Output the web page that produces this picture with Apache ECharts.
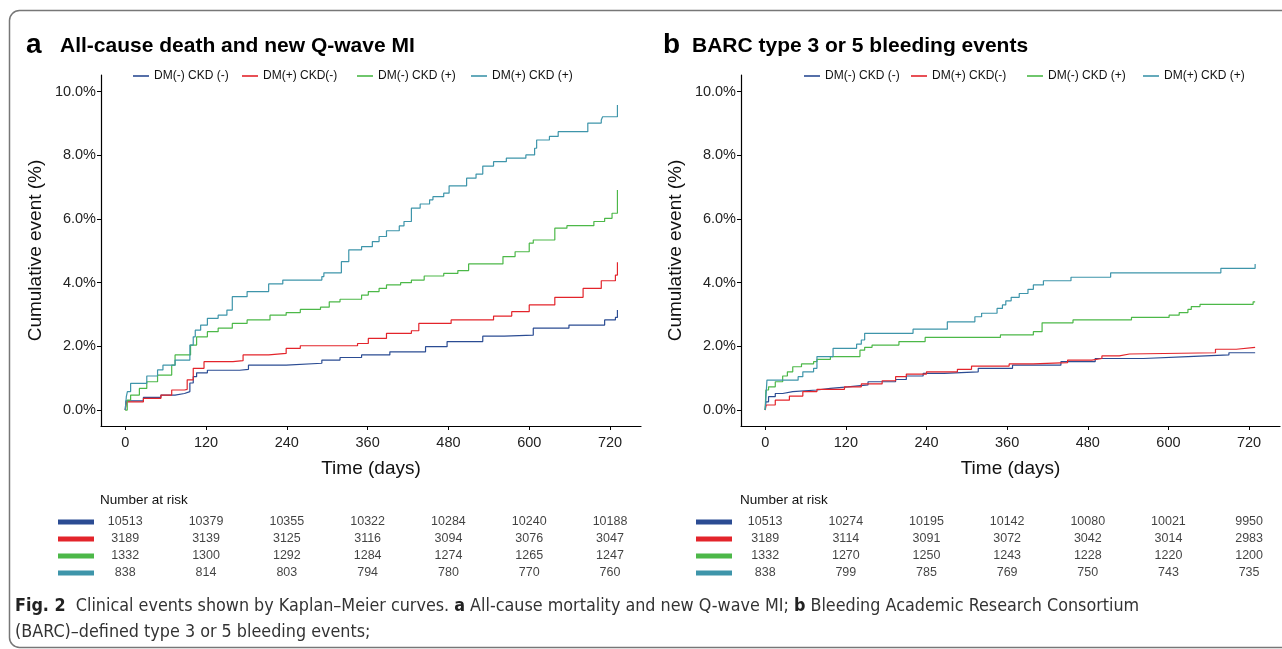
<!DOCTYPE html>
<html>
<head>
<meta charset="utf-8">
<script src="https://cdn.jsdelivr.net/npm/echarts@6/dist/echarts.min.js"></script>
<style>
html,body{margin:0;padding:0;background:#fff;}
#c{width:1282px;height:649px;}
</style>
</head>
<body>
<div id="c"></div>
<script>
// ---------- data ----------
const groups = ['DM(-) CKD (-)', 'DM(+) CKD(-)', 'DM(-) CKD (+)', 'DM(+) CKD (+)'];
const colors = ['#2b4c93', '#e3242b', '#4cb848', '#3e95aa'];
const timeTicks = [0, 120, 240, 360, 480, 600, 720];
const pctTicks = [0, 2, 4, 6, 8, 10];

// Panel a: All-cause death and new Q-wave MI  [day, cumulative %]
const aDm0Ckd0 = [[0,0],[1,0.29],[27,0.40],[53,0.47],[74,0.52],[88,0.58],[96,0.85],[101,1.05],[106,1.17],[122,1.25],[170,1.28],[183,1.41],[239,1.47],[292,1.57],[319,1.65],[351,1.73],[393,1.83],[446,1.99],[478,2.15],[531,2.32],[563,2.35],[606,2.57],[659,2.67],[712,2.83],[728,2.91],[731,3.14]];
const aDm1Ckd0 = [[0,0],[2,0.26],[27,0.37],[53,0.47],[69,0.63],[88,0.65],[92,0.95],[101,1.31],[117,1.52],[160,1.55],[175,1.73],[213,1.78],[239,1.94],[260,2.02],[345,2.09],[361,2.25],[388,2.41],[425,2.49],[436,2.72],[484,2.83],[547,2.95],[574,3.09],[600,3.30],[638,3.54],[680,3.82],[707,4.06],[728,4.24],[731,4.64]];
const aDm0Ckd1 = [[0,0],[3,0.31],[8,0.47],[21,0.68],[32,0.89],[48,1.10],[69,1.41],[74,1.73],[97,2.04],[106,2.30],[122,2.46],[138,2.57],[159,2.72],[181,2.83],[215,2.98],[239,3.06],[260,3.16],[290,3.23],[303,3.40],[319,3.48],[351,3.61],[361,3.72],[377,3.82],[388,3.93],[409,4.00],[425,4.08],[444,4.21],[473,4.29],[494,4.38],[510,4.59],[561,4.82],[579,4.97],[600,5.24],[606,5.34],[638,5.71],[656,5.79],[696,5.92],[712,6.02],[723,6.18],[731,6.91]];
const aDm1Ckd1 = [[0,0],[1.6,0.42],[3.2,0.58],[8,0.84],[32,1.07],[48,1.26],[56,1.41],[74,1.57],[96,2.04],[101,2.30],[104,2.51],[112,2.67],[122,2.88],[138,2.98],[151,3.14],[159,3.56],[181,3.72],[213,3.96],[234,4.08],[292,4.19],[295,4.31],[321,4.66],[332,5.03],[351,5.13],[367,5.29],[377,5.45],[388,5.63],[407,5.78],[414,5.92],[425,6.34],[438,6.47],[452,6.60],[457,6.70],[473,6.81],[481,7.04],[507,7.28],[521,7.41],[531,7.66],[547,7.80],[566,7.91],[595,8.01],[608,8.22],[611,8.48],[630,8.59],[643,8.74],[687,9.01],[707,9.11],[709,9.21],[731,9.58]];

// Panel b: BARC type 3 or 5 bleeding events  [day, cumulative %]
const bDm0Ckd0 = [[0,0],[1,0.26],[5,0.42],[15,0.52],[26,0.58],[41,0.63],[77,0.68],[97,0.73],[123,0.79],[153,0.89],[194,0.96],[210,1.07],[235,1.15],[266,1.20],[317,1.31],[368,1.41],[440,1.52],[491,1.62],[563,1.68],[629,1.73],[690,1.80],[729,1.81]];
const bDm1Ckd0 = [[0,0],[1.5,0.16],[15,0.31],[36,0.44],[56,0.58],[77,0.65],[118,0.73],[143,0.82],[174,0.92],[194,1.05],[210,1.13],[240,1.20],[286,1.28],[307,1.38],[363,1.45],[399,1.49],[450,1.57],[486,1.62],[501,1.70],[527,1.76],[542,1.80],[670,1.91],[701,1.97],[729,1.97]];
const bDm0Ckd1 = [[0,0],[1,0.63],[5,0.73],[15,0.89],[26,1.07],[33,1.20],[41,1.36],[54,1.45],[72,1.52],[77,1.59],[97,1.68],[141,1.88],[148,1.97],[159,2.04],[199,2.15],[238,2.28],[350,2.36],[399,2.46],[412,2.74],[458,2.83],[545,2.91],[601,2.98],[616,3.06],[629,3.16],[634,3.25],[647,3.32],[726,3.40],[729,3.40]];
const bDm1Ckd1 = [[0,0],[2.6,0.94],[49,1.05],[56,1.20],[72,1.31],[77,1.68],[101,1.94],[136,2.07],[143,2.20],[148,2.41],[220,2.54],[271,2.77],[312,2.93],[322,3.04],[345,3.19],[353,3.30],[358,3.43],[366,3.54],[378,3.66],[391,3.79],[399,3.93],[414,4.06],[455,4.17],[514,4.31],[678,4.45],[729,4.59]];

// Number at risk
const riskA_Dm0Ckd0 = [10513, 10379, 10355, 10322, 10284, 10240, 10188];
const riskA_Dm1Ckd0 = [3189, 3139, 3125, 3116, 3094, 3076, 3047];
const riskA_Dm0Ckd1 = [1332, 1300, 1292, 1284, 1274, 1265, 1247];
const riskA_Dm1Ckd1 = [838, 814, 803, 794, 780, 770, 760];
const riskB_Dm0Ckd0 = [10513, 10274, 10195, 10142, 10080, 10021, 9950];
const riskB_Dm1Ckd0 = [3189, 3114, 3091, 3072, 3042, 3014, 2983];
const riskB_Dm0Ckd1 = [1332, 1270, 1250, 1243, 1228, 1220, 1200];
const riskB_Dm1Ckd1 = [838, 799, 785, 769, 750, 743, 735];

// ---------- chart ----------
const FONT = '"Liberation Sans", Arial, Helvetica, sans-serif';
const CAPFONT = '"Liberation Sans Narrow", "DejaVu Sans Condensed", "Liberation Sans", sans-serif';
const chart = echarts.init(document.getElementById('c'), null, {renderer: 'canvas'});

const curvesA = [aDm0Ckd0, aDm1Ckd0, aDm0Ckd1, aDm1Ckd1];
const curvesB = [bDm0Ckd0, bDm1Ckd0, bDm0Ckd1, bDm1Ckd1];
const riskA = [riskA_Dm0Ckd0, riskA_Dm1Ckd0, riskA_Dm0Ckd1, riskA_Dm1Ckd1];
const riskB = [riskB_Dm0Ckd0, riskB_Dm1Ckd0, riskB_Dm0Ckd1, riskB_Dm1Ckd1];

const X_MIN = -36, X_MAX = 766;

function plotX(gi) {
  return {
    gridIndex: gi, type: 'value', min: X_MIN, max: X_MAX,
    name: 'Time (days)', nameLocation: 'middle', nameGap: 33,
    nameTextStyle: {fontFamily: FONT, fontSize: 19, color: '#111'},
    axisLine: {onZero: false, lineStyle: {color: '#000', width: 1.2}},
    axisTick: {show: true, length: 4, customValues: timeTicks, lineStyle: {color: '#000'}},
    axisLabel: {customValues: timeTicks, fontFamily: FONT, fontSize: 14.5, color: '#222', margin: 9},
    splitLine: {show: false}
  };
}
function plotY(gi) {
  return {
    gridIndex: gi, type: 'value', min: -0.5, max: 10.52,
    name: 'Cumulative event (%)', nameLocation: 'middle', nameGap: 56,
    nameTextStyle: {fontFamily: FONT, fontSize: 19, color: '#111'},
    axisLine: {show: true, onZero: false, lineStyle: {color: '#000', width: 1.2}},
    axisTick: {show: true, length: 4, customValues: pctTicks, lineStyle: {color: '#000'}},
    axisLabel: {customValues: pctTicks, fontFamily: FONT, fontSize: 14.5, color: '#222', margin: 5,
      formatter: v => v.toFixed(1) + '%'},
    splitLine: {show: false}
  };
}
function tableX(gi) {
  return {gridIndex: gi, type: 'value', min: X_MIN, max: X_MAX, show: false};
}
function tableY(gi, margin) {
  const rich = {};
  colors.forEach((c, i) => { rich['k' + i] = {width: 36, height: 5, backgroundColor: c}; });
  return {
    gridIndex: gi, type: 'category', data: groups, inverse: true,
    axisLine: {show: false}, axisTick: {show: false}, splitLine: {show: false},
    axisLabel: {margin: margin, formatter: (v, i) => '{k' + i + '|}', rich: rich}
  };
}

const series = [];
[curvesA, curvesB].forEach((curves, p) => {
  curves.forEach((d, i) => {
    series.push({
      name: groups[i], type: 'line', step: 'end', xAxisIndex: p, yAxisIndex: p,
      data: d, showSymbol: false, symbol: 'none',
      lineStyle: {color: colors[i], width: 1.2}, itemStyle: {color: colors[i]},
      z: 2 + i
    });
  });
});
[riskA, riskB].forEach((risk, p) => {
  risk.forEach((row, i) => {
    series.push({
      type: 'scatter', xAxisIndex: 2 + p, yAxisIndex: 2 + p,
      symbolSize: 1, itemStyle: {color: 'rgba(0,0,0,0)'},
      data: timeTicks.map((t, k) => [t, groups[i], row[k]]),
      label: {show: true, position: 'inside', formatter: q => q.value[2],
        fontFamily: FONT, fontSize: 12.5, color: '#111'}
    });
  });
});

function legendsFor(lefts) {
  return groups.map((g, i) => ({
    data: [g], left: lefts[i], top: 70, padding: 0, icon: 'rect', itemWidth: 16, itemHeight: 1.6,
    itemGap: 0, selectedMode: false,
    textStyle: {fontFamily: FONT, fontSize: 12, color: '#111'}
  }));
}

const option = {
  animation: false,
  backgroundColor: '#fff',
  grid: [
    {left: 101, top: 75, width: 540, height: 351},
    {left: 741, top: 75, width: 539, height: 351},
    {left: 101, top: 513.5, width: 540, height: 68},
    {left: 741, top: 513.5, width: 539, height: 68}
  ],
  xAxis: [plotX(0), plotX(1), tableX(2), tableX(3)],
  yAxis: [plotY(0), plotY(1), tableY(2, 7), tableY(3, 9)],
  legend: legendsFor([133, 242, 357, 471]).concat(legendsFor([804, 911, 1027, 1143])),
  series: series,
  graphic: [
    {type: 'rect', silent: true, z: -1,
      shape: {x: 9.5, y: 10.5, width: 1300, height: 637, r: 10},
      style: {fill: 'none', stroke: '#777', lineWidth: 1.5}},
    {type: 'text', left: 26, top: 31, style: {text: 'a', font: 'bold 28px ' + FONT, fill: '#000'}},
    {type: 'text', left: 60, top: 36, style: {text: 'All-cause death and new Q-wave MI', font: 'bold 21px ' + FONT, fill: '#000'}},
    {type: 'text', left: 663, top: 31, style: {text: 'b', font: 'bold 28px ' + FONT, fill: '#000'}},
    {type: 'text', left: 692, top: 36, style: {text: 'BARC type 3 or 5 bleeding events', font: 'bold 21px ' + FONT, fill: '#000'}},
    {type: 'text', left: 100, top: 493, style: {text: 'Number at risk', font: '13.5px ' + FONT, fill: '#111'}},
    {type: 'text', left: 740, top: 493, style: {text: 'Number at risk', font: '13.5px ' + FONT, fill: '#111'}},
    {type: 'text', left: 15, top: 597, style: {
      text: '{b|Fig. 2}  Clinical events shown by Kaplan\u2013Meier curves. {b|a} All-cause mortality and new Q-wave MI; {b|b} Bleeding Academic Research Consortium',
      font: '17.8px ' + CAPFONT, fill: '#333',
      rich: {b: {fontFamily: CAPFONT, fontWeight: 'bold', fontSize: 17.8, fill: '#222'}}
    }},
    {type: 'text', left: 15, top: 623, style: {
      text: '(BARC)\u2013defined type 3 or 5 bleeding events;',
      font: '17.8px ' + CAPFONT, fill: '#333'
    }}
  ]
};
chart.setOption(option);
</script>
</body>
</html>
